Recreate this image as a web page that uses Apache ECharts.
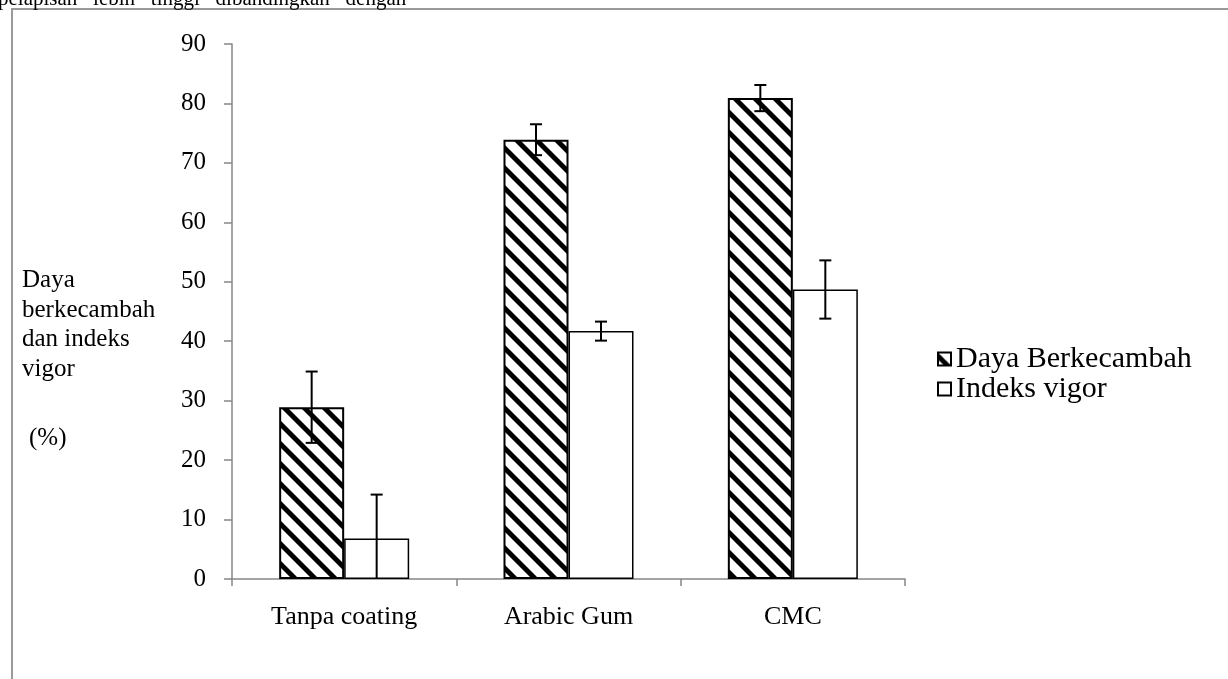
<!DOCTYPE html>
<html>
<head>
<meta charset="utf-8">
<script src="https://cdn.jsdelivr.net/npm/echarts@6/dist/echarts.min.js"></script>
<style>html,body{margin:0;padding:0;background:#fff}#c{width:1228px;height:679px}</style>
</head>
<body>
<div id="c"></div>
<script>
const categories = ['Tanpa coating', 'Arabic Gum', 'CMC'];
const seriesNames = ['Daya Berkecambah', 'Indeks vigor'];
const dayaValues = [28.9, 73.9, 80.9];
const dayaErrors = [6.0, 2.6, 2.2];
const vigorValues = [6.8, 41.7, 48.7];
const vigorErrors = [7.4, 1.6, 4.9];
const yTicks = [0, 10, 20, 30, 40, 50, 60, 70, 80, 90];
const yTitleLines = ['Daya', 'berkecambah', 'dan indeks', 'vigor'];
const yUnit = '(%)';
const topText = 'pelapisan   lebih   tinggi   dibandingkan   dengan';

const FONT = '"Liberation Serif", "Times New Roman", serif';
const FS = 25;

function hatch() {
  const s = 20, t = 7;
  const c = document.createElement('canvas');
  c.width = s; c.height = s;
  const g = c.getContext('2d');
  const img = g.createImageData(s, s);
  for (let y = 0; y < s; y++) {
    for (let x = 0; x < s; x++) {
      let d = (((y - x) % s) + s) % s;
      let dist = Math.min(Math.abs(d - t / 2), Math.abs(d - t / 2 - s), Math.abs(d - t / 2 + s));
      let v = dist <= t / 2 - 1 ? 0 : (dist <= t / 2 + 1 ? Math.round(255 * (dist - (t / 2 - 1)) / 2) : 255);
      const k = (y * s + x) * 4;
      img.data[k] = img.data[k + 1] = img.data[k + 2] = v;
      img.data[k + 3] = 255;
    }
  }
  g.putImageData(img, 0, 0);
  return c;
}
const hatchPattern = { image: hatch(), repeat: 'repeat' };

const BW = 65;
function errData(vals, errs) {
  return vals.map((v, i) => [i, Math.max(0, v - errs[i]), v + errs[i]]);
}
function errSeries(vals, errs, offset) {
  return {
    type: 'custom',
    silent: true,
    z: 10,
    data: errData(vals, errs),
    encode: { x: 0, y: [1, 2] },
    renderItem: function (params, api) {
      const lo = api.coord([api.value(0), api.value(1)]);
      const hi = api.coord([api.value(0), api.value(2)]);
      const x = lo[0] + offset;
      const cap = 6;
      const st = { stroke: '#000', lineWidth: 2 };
      const children = [
        { type: 'line', shape: { x1: x, y1: hi[1], x2: x, y2: lo[1] }, style: st },
        { type: 'line', shape: { x1: x - cap, y1: hi[1], x2: x + cap, y2: hi[1] }, style: st }
      ];
      if (api.value(1) > 0) {
        children.push({ type: 'line', shape: { x1: x - cap, y1: lo[1], x2: x + cap, y2: lo[1] }, style: st });
      }
      return { type: 'group', children: children };
    }
  };
}

const chart = echarts.init(document.getElementById('c'), null, { renderer: 'canvas' });
const titleGraphics = yTitleLines.map((t, i) => ({
  type: 'text', left: 22, top: 268 + i * 29.5,
  style: { text: t, font: FS + 'px ' + FONT, fill: '#000' }
}));
titleGraphics.push({
  type: 'text', left: 29, top: 426,
  style: { text: yUnit, font: FS + 'px ' + FONT, fill: '#000' }
});

chart.setOption({
  animation: false,
  backgroundColor: '#fff',
  textStyle: { fontFamily: FONT },
  grid: { left: 232, right: 323, top: 44, bottom: 100 },
  legend: {
    orient: 'vertical', left: 932, top: 339, itemGap: 0,
    itemWidth: 13, itemHeight: 13, icon: 'rect',
    data: seriesNames,
    textStyle: { fontFamily: FONT, fontSize: 30, lineHeight: 28, color: '#000' }
  },
  graphic: [
    { type: 'rect', shape: { x: 12, y: 9, width: 1400, height: 900 }, style: { fill: 'none', stroke: '#9a9a9a', lineWidth: 2 }, z: -1 },
    { type: 'text', x: -2, y: -1, style: { text: topText, font: '21px ' + FONT, fill: '#000', verticalAlign: 'middle' } }
  ].concat(titleGraphics),
  xAxis: {
    type: 'category', data: categories,
    axisLine: { lineStyle: { color: '#868686', width: 1.5 } },
    axisTick: { show: true, length: 7, lineStyle: { color: '#868686', width: 1.5 } },
    axisLabel: { fontFamily: FONT, fontSize: 26, color: '#000', margin: 25 }
  },
  yAxis: {
    type: 'value', min: yTicks[0], max: yTicks[yTicks.length - 1], interval: 10,
    axisLine: { show: true, lineStyle: { color: '#868686', width: 1.5 } },
    axisTick: { show: true, length: 8, lineStyle: { color: '#868686', width: 1.5 } },
    splitLine: { show: false },
    axisLabel: { fontFamily: FONT, fontSize: FS, color: '#000', margin: 26 }
  },
  series: [
    {
      name: seriesNames[0], type: 'bar', data: dayaValues, barWidth: BW, barGap: '0%',
      itemStyle: { color: hatchPattern, borderColor: '#000', borderWidth: 2 }
    },
    {
      name: seriesNames[1], type: 'bar', data: vigorValues, barWidth: BW, barGap: '0%',
      itemStyle: { color: '#fff', borderColor: '#000', borderWidth: 1.5 }
    },
    errSeries(dayaValues, dayaErrors, -BW / 2),
    errSeries(vigorValues, vigorErrors, BW / 2)
  ]
});
</script>
</body>
</html>
